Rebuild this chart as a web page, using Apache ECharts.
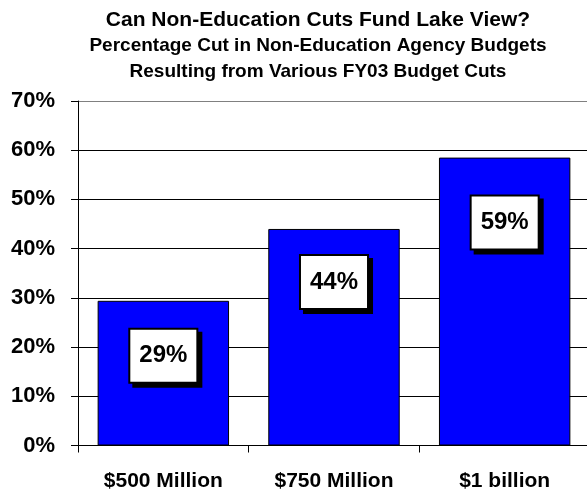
<!DOCTYPE html>
<html>
<head>
<meta charset="utf-8">
<script src="https://cdn.jsdelivr.net/npm/echarts@6/dist/echarts.min.js"></script>
<style>
  html, body { margin: 0; padding: 0; background: #fff; }
  #main { width: 587px; height: 493px; }
</style>
</head>
<body>
<div id="main"></div>
<script>
const categories = ['$500 Million', '$750 Million', '$1 billion'];
const cutPct = [29.4, 44.0, 58.5];
const yTicks = [0, 10, 20, 30, 40, 50, 60, 70];
const titleLines = [
  'Can Non-Education Cuts Fund Lake View?',
  'Percentage Cut in Non-Education Agency Budgets',
  'Resulting from Various FY03 Budget Cuts'
];

// how far each value box sits below the top of its bar
const boxDist = [29, 27, 39];
const font = '"Liberation Sans", Arial, sans-serif';

const chart = echarts.init(document.getElementById('main'));

const option = {
  backgroundColor: '#fff',
  animation: false,
  title: [
    { text: titleLines[0], left: 313, top: 5, textAlign: 'center',
      textStyle: { fontFamily: font, fontWeight: 'bold', fontSize: 21, color: '#000' } },
    { text: titleLines[1], left: 313, top: 31, textAlign: 'center',
      textStyle: { fontFamily: font, fontWeight: 'bold', fontSize: 19, color: '#000' } },
    { text: titleLines[2], left: 313, top: 57, textAlign: 'center',
      textStyle: { fontFamily: font, fontWeight: 'bold', fontSize: 19, color: '#000' } }
  ],
  grid: { left: 78, top: 101, right: -3, bottom: 47.5, outerBoundsMode: 'none' },
  xAxis: {
    type: 'category',
    data: categories,
    axisLine: { lineStyle: { color: '#000', width: 1 } },
    axisTick: { show: true, length: 7, lineStyle: { color: '#000' } },
    axisLabel: { margin: 25, color: '#000', fontFamily: font, fontWeight: 'bold', fontSize: 21 }
  },
  yAxis: {
    type: 'value',
    min: yTicks[0],
    max: yTicks[yTicks.length - 1],
    interval: 10,
    axisLine: { show: true, lineStyle: { color: '#000', width: 1 } },
    axisTick: { show: true, length: 7, lineStyle: { color: '#000' } },
    axisLabel: { margin: 23, color: '#000', fontFamily: font, fontWeight: 'bold', fontSize: 22,
      formatter: '{value}%' },
    splitLine: { show: true, lineStyle: { color: ['#000', '#000', '#000', '#000', '#000', '#000', '#000', '#808080'], width: 1 } }
  },
  series: [{
    type: 'bar',
    barWidth: '77%',
    data: cutPct.map((v, i) => ({ value: v, label: { distance: boxDist[i] } })),
    itemStyle: { color: '#0000ff', borderColor: '#000', borderWidth: 1 },
    label: {
      show: true,
      position: 'insideTop',
      formatter: p => Math.round(p.value) + '%',
      color: '#000',
      fontFamily: font,
      fontWeight: 'bold',
      fontSize: 24,
      backgroundColor: '#fff',
      borderColor: '#000',
      borderWidth: 2,
      padding: [14, 9],
      shadowColor: '#000',
      shadowOffsetX: 4,
      shadowOffsetY: 4,
      shadowBlur: 0
    }
  }]
};

chart.setOption(option);
</script>
</body>
</html>
